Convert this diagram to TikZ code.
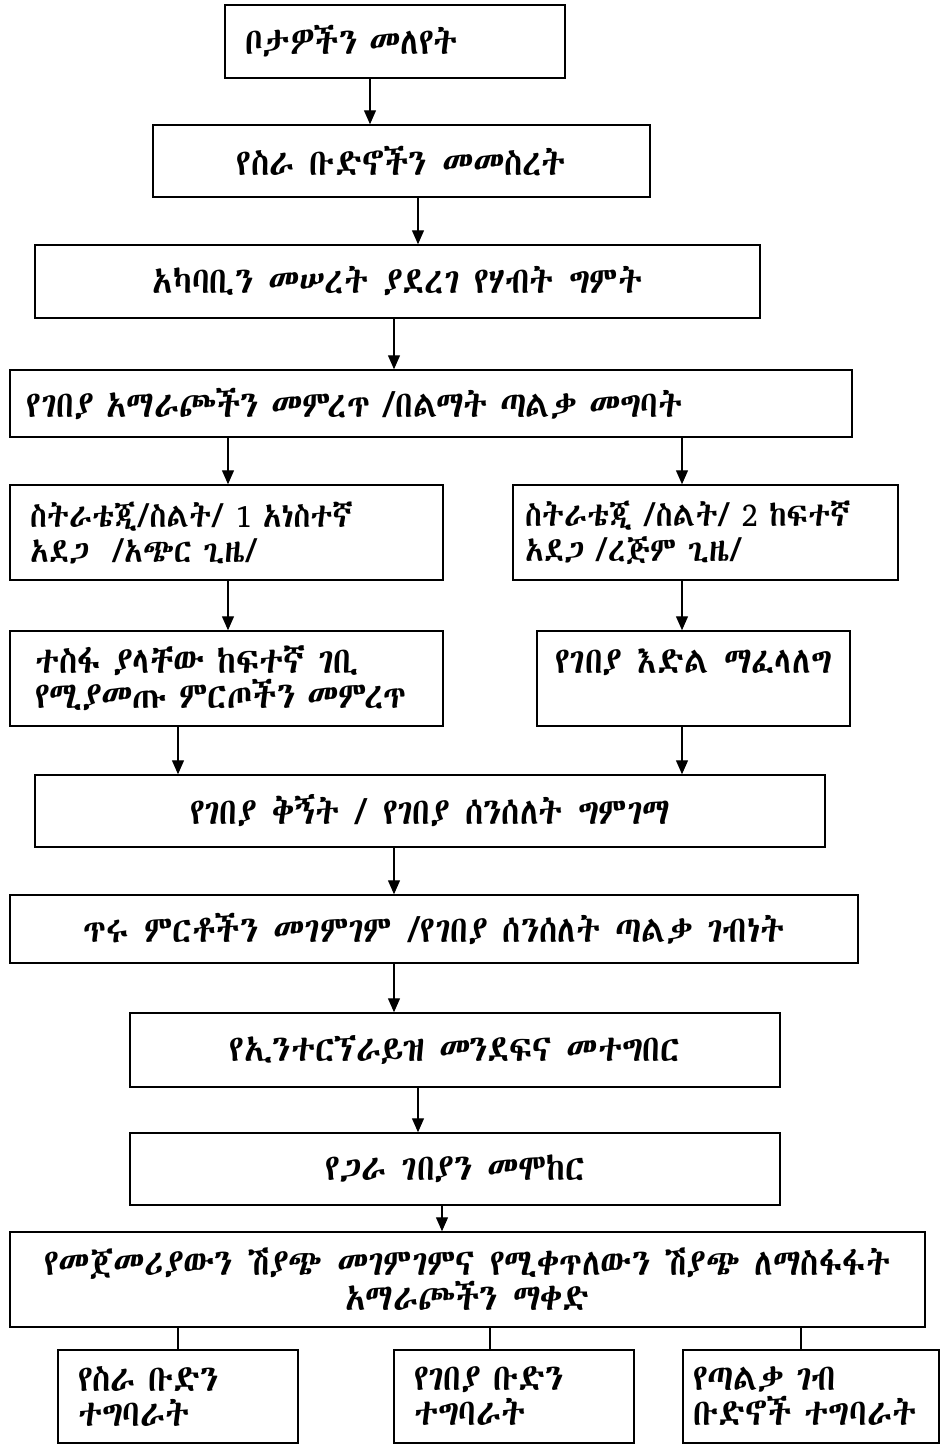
\documentclass[tikz,border=0pt]{standalone}
\usepackage{fontspec}
\IfFontExistsTF{Abyssinica SIL}{\setmainfont{Abyssinica SIL}[FakeStretch=0.9]}{%
\IfFontExistsTF{Noto Sans Ethiopic}{\setmainfont{Noto Sans Ethiopic}[FakeStretch=0.9]}{%
\IfFontExistsTF{FreeSerif}{\setmainfont{FreeSerif}[FakeStretch=0.9]}{\setmainfont{DejaVu Sans}}}}
\usetikzlibrary{arrows.meta}

\begin{document}
\begin{tikzpicture}[x=1pt,y=-1pt,
  box/.style={draw, line width=1.5pt, inner sep=0pt, font=\fontsize{37}{35}\selectfont},
  lbox/.style={box, align=left},
  cbox/.style={box, align=center},
  sbox/.style={lbox, font=\fontsize{34}{35}\selectfont},
  arr/.style={line width=1.3pt, -{Triangle[length=14pt,width=12pt]}},
  link/.style={line width=1.3pt}]

\useasboundingbox (0,0) rectangle (940,1448);

% columns of the connectors
\coordinate (xa) at (370,0);
\coordinate (xb) at (418,0);
\coordinate (xc) at (394,0);
\coordinate (xd) at (228,0);
\coordinate (xe) at (682,0);
\coordinate (xf) at (178,0);
\coordinate (xg) at (442,0);
\coordinate (xh) at (490,0);
\coordinate (xi) at (801,0);

\node[lbox, text width=300, inner xsep=20, minimum height=73] (sites) at (395,41.5) {ቦታዎችን መለየት};
\node[cbox, minimum width=497, minimum height=72] (teams) at (401.5,161) {የስራ ቡድኖችን መመስረት};
\node[cbox, minimum width=725, minimum height=73] (resources) at (397.5,281.5) {አካባቢን መሠረት ያደረገ የሃብት ግምት};
\node[lbox, text width=808, inner xsep=17, minimum height=67] (options) at (431,403.5) {የገበያ አማራጮችን መምረጥ /በልማት ጣልቃ መግባት};

\node[sbox, text width=393, inner xsep=20, minimum height=95] (strat1) at (226.5,532.5) {ስትራቴጂ/ስልት/ 1 አነስተኛ\\ አደጋ~ /አጭር ጊዜ/};
\node[sbox, text width=361, inner xsep=12, minimum height=95] (strat2) at (705.5,532.5) {ስትራቴጂ /ስልት/ 2 ከፍተኛ\\ አደጋ /ረጅም ጊዜ/};
\node[lbox, text width=383, inner xsep=25, minimum height=95] (products) at (226.5,678.5) {ተስፋ ያላቸው ከፍተኛ ገቢ\\ የሚያመጡ ምርጦችን መምረጥ};
\node[cbox, minimum width=313, minimum height=95] (chance) at (693.5,678.5) {የገበያ እድል ማፈላለግ\\ ~};

\node[cbox, minimum width=790, minimum height=72] (survey) at (430,811) {የገበያ ቅኝት / የገበያ ሰንሰለት ግምገማ};
\node[cbox, minimum width=848, minimum height=68] (assess) at (434,929) {ጥሩ ምርቶችን መገምገም /የገበያ ሰንሰለት ጣልቃ ገብነት};
\node[cbox, minimum width=650, minimum height=74] (enterprise) at (455,1050) {የኢንተርኘራይዝ መንደፍና መተግበር};
\node[cbox, minimum width=650, minimum height=72] (trial) at (455,1169) {የጋራ ገበያን መሞከር};
\node[cbox, minimum width=915, minimum height=95] (review) at (467.5,1279.5) {የመጀመሪያውን ሽያጭ መገምገምና የሚቀጥለውን ሽያጭ ለማስፋፋት\\ አማራጮችን ማቀድ};

\node[lbox, text width=200, inner xsep=20, minimum height=93] (teamtask) at (178,1396.5) {የስራ ቡድን\\ ተግባራት};
\node[lbox, text width=200, inner xsep=20, minimum height=93] (markettask) at (514,1396.5) {የገበያ ቡድን\\ ተግባራት};
\node[lbox, text width=236, inner xsep=10, minimum height=93] (facilitask) at (811,1396.5) {የጣልቃ ገብ\\ ቡድኖች ተግባራት};

\draw[arr] (sites.south -| xa) -- (teams.north -| xa);
\draw[arr] (teams.south -| xb) -- (resources.north -| xb);
\draw[arr] (resources.south -| xc) -- (options.north -| xc);
\draw[arr] (options.south -| xd) -- (strat1.north -| xd);
\draw[arr] (options.south -| xe) -- (strat2.north -| xe);
\draw[arr] (strat1.south -| xd) -- (products.north -| xd);
\draw[arr] (strat2.south -| xe) -- (chance.north -| xe);
\draw[arr] (products.south -| xf) -- (survey.north -| xf);
\draw[arr] (chance.south -| xe) -- (survey.north -| xe);
\draw[arr] (survey.south -| xc) -- (assess.north -| xc);
\draw[arr] (assess.south -| xc) -- (enterprise.north -| xc);
\draw[arr] (enterprise.south -| xb) -- (trial.north -| xb);
\draw[arr] (trial.south -| xg) -- (review.north -| xg);
\draw[link] (review.south -| xf) -- (teamtask.north -| xf);
\draw[link] (review.south -| xh) -- (markettask.north -| xh);
\draw[link] (review.south -| xi) -- (facilitask.north -| xi);
\end{tikzpicture}
\end{document}
